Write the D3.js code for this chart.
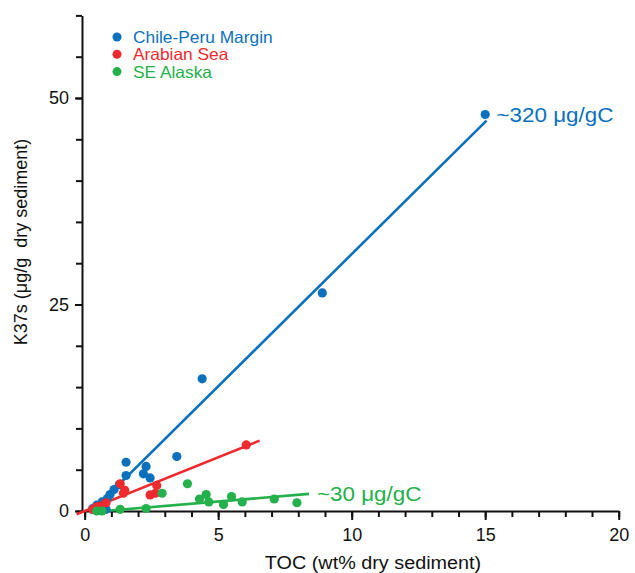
<!DOCTYPE html>
<html>
<head>
<meta charset="utf-8">
<script src="https://cdn.jsdelivr.net/npm/d3@7"></script>
<style>
  html, body { margin: 0; padding: 0; background: #fff; }
  svg { display: block; font-family: "Liberation Sans", Arial, Helvetica, sans-serif; }
</style>
</head>
<body>
<svg id="chart" width="635" height="573"></svg>
<script>
// TOC (wt%) vs K37s alkenone concentration (μg/g dry sediment)
const seriesNames = ["Chile-Peru Margin", "Arabian Sea", "SE Alaska"];
const seriesColors = ["#0b71bd", "#ee2a2e", "#24b04a"];

const chilePeruToc = [15.0, 8.9, 4.4, 3.45, 1.55, 1.55, 2.3, 2.2, 2.45, 1.3, 1.1, 0.95, 0.85, 0.65, 0.45, 0.3, 0.8];
const chilePeruK37 = [48.0, 26.4, 16.0, 6.6, 5.9, 4.3, 5.4, 4.5, 4.0, 3.2, 2.6, 2.0, 1.5, 1.1, 0.7, 0.3, 0.2];

const arabianToc = [6.05, 2.7, 2.65, 2.45, 1.33, 1.5, 1.45, 0.8, 0.6, 0.3, 0.45];
const arabianK37 = [8.0, 3.1, 2.15, 1.95, 3.3, 2.5, 2.15, 1.0, 0.6, 0.2, 0.5];

const alaskaToc = [3.85, 2.9, 4.3, 4.55, 4.65, 5.2, 5.5, 5.9, 7.1, 7.95, 2.3, 1.33, 0.65, 0.45];
const alaskaK37 = [3.3, 2.15, 1.45, 2.0, 1.1, 0.8, 1.75, 1.1, 1.45, 1.0, 0.3, 0.2, 0.0, 0.0];

// linear fits: slope (μg/g per wt%), intercept, TOC extent of the drawn line
const fitSlope = [3.2, 1.3, 0.27];
const fitIntercept = [-0.9, 0.0, -0.2];
const fitFrom = [0.2, -0.3, 0.4];
const fitTo = [15.05, 6.55, 8.4];
const fitLabels = ["~320 μg/gC", null, "~30 μg/gC"];

const xMajorTicks = [0, 5, 10, 15, 20];
const xMinorTicks = d3.range(0, 21, 1);
const yMajorTicks = [0, 25, 50];
const yMinorTicks = d3.range(0, 61, 5);

const xTitle = "TOC (wt% dry sediment)";
const yTitle = "K37s (μg/g  dry sediment)";

const series = [
  { toc: chilePeruToc, k37: chilePeruK37 },
  { toc: arabianToc, k37: arabianK37 },
  { toc: alaskaToc, k37: alaskaK37 }
];

// the typeface is set slightly wide: stretch text horizontally by this factor
const textStretch = 1.07;
function widen(sel, factor = textStretch) {
  sel.each(function () {
    const len = this.getComputedTextLength();
    d3.select(this).attr("textLength", len * factor).attr("lengthAdjust", "spacingAndGlyphs");
  });
}

const svg = d3.select("#chart");
const x = d3.scaleLinear().domain([-0.1, 20]).range([82, 618.7]);
const y = d3.scaleLinear().domain([0, 60]).range([511, 15.4]);

// axes: minor ticks first, then labelled major ticks
function styleAxis(g) {
  g.selectAll("path.domain").attr("stroke", "#111").attr("stroke-width", 2);
  g.selectAll(".tick line").attr("stroke", "#111").attr("stroke-width", 2);
  g.selectAll(".tick text").attr("fill", "#111").style("font-size", "18px")
    .style("font-family", "'Liberation Sans', Arial, sans-serif");
}

svg.append("g").attr("transform", `translate(0,${y(0)})`)
  .call(d3.axisBottom(x).tickValues(xMinorTicks).tickSize(6).tickSizeOuter(0).tickFormat(""))
  .call(styleAxis);
svg.append("g").attr("transform", `translate(0,${y(0)})`)
  .call(d3.axisBottom(x).tickValues(xMajorTicks).tickSize(9).tickSizeOuter(0).tickPadding(8).tickFormat(d3.format("d")))
  .call(styleAxis)
  .call(g => g.select("path.domain").remove());

svg.append("g").attr("transform", `translate(${x(-0.1)},0)`)
  .call(d3.axisLeft(y).tickValues(yMinorTicks).tickSize(6).tickSizeOuter(0).tickFormat(""))
  .call(styleAxis);
svg.append("g").attr("transform", `translate(${x(-0.1)},0)`)
  .call(d3.axisLeft(y).tickValues(yMajorTicks).tickSize(7).tickSizeOuter(0).tickPadding(6).tickFormat(d3.format("d")))
  .call(styleAxis)
  .call(g => g.select("path.domain").remove());

// axis titles
svg.append("text")
  .attr("x", 373).attr("y", 569)
  .attr("text-anchor", "middle")
  .style("font-size", "18px").attr("fill", "#111")
  .text(xTitle)
  .call(widen, 1.1);
svg.append("text")
  .attr("transform", `translate(27,${242}) rotate(-90)`)
  .attr("text-anchor", "middle")
  .style("font-size", "18px").style("white-space", "pre").attr("fill", "#111")
  .text(yTitle);

// fit lines
const plot = svg.append("g");
series.forEach((s, i) => {
  const ends = [fitFrom[i], fitTo[i]].map(t => [t, fitSlope[i] * t + fitIntercept[i]]);
  plot.append("path")
    .datum(ends)
    .attr("fill", "none")
    .attr("stroke", seriesColors[i])
    .attr("stroke-width", 2.6)
    .attr("d", d3.line().x(d => x(d[0])).y(d => y(d[1])));
});

// points
series.forEach((s, i) => {
  plot.append("g").selectAll("circle")
    .data(s.toc.map((t, j) => [t, s.k37[j]]))
    .join("circle")
    .attr("cx", d => x(d[0]))
    .attr("cy", d => y(d[1]))
    .attr("r", 4.6)
    .attr("fill", seriesColors[i]);
});

// slope annotations at the end of each labelled fit line
fitLabels.forEach((lab, i) => {
  if (!lab) return;
  const tEnd = fitTo[i];
  const yEnd = fitSlope[i] * tEnd + fitIntercept[i];
  svg.append("text")
    .attr("x", x(tEnd) + (i === 0 ? 10 : 8))
    .attr("y", y(yEnd) + (i === 0 ? 1 : 7))
    .style("font-size", "20px")
    .attr("fill", seriesColors[i])
    .text(lab)
    .call(widen, 1.12);
});

// legend
const legend = svg.append("g");
seriesNames.forEach((name, i) => {
  const row = legend.append("g").attr("transform", `translate(117,${37 + i * 17.3})`);
  row.append("circle").attr("r", 4.5).attr("fill", seriesColors[i]);
  row.append("text").attr("x", 16).attr("y", 6)
    .style("font-size", "16.5px").attr("fill", seriesColors[i])
    .text(name)
    .call(widen, 1.05);
});
</script>
</body>
</html>
